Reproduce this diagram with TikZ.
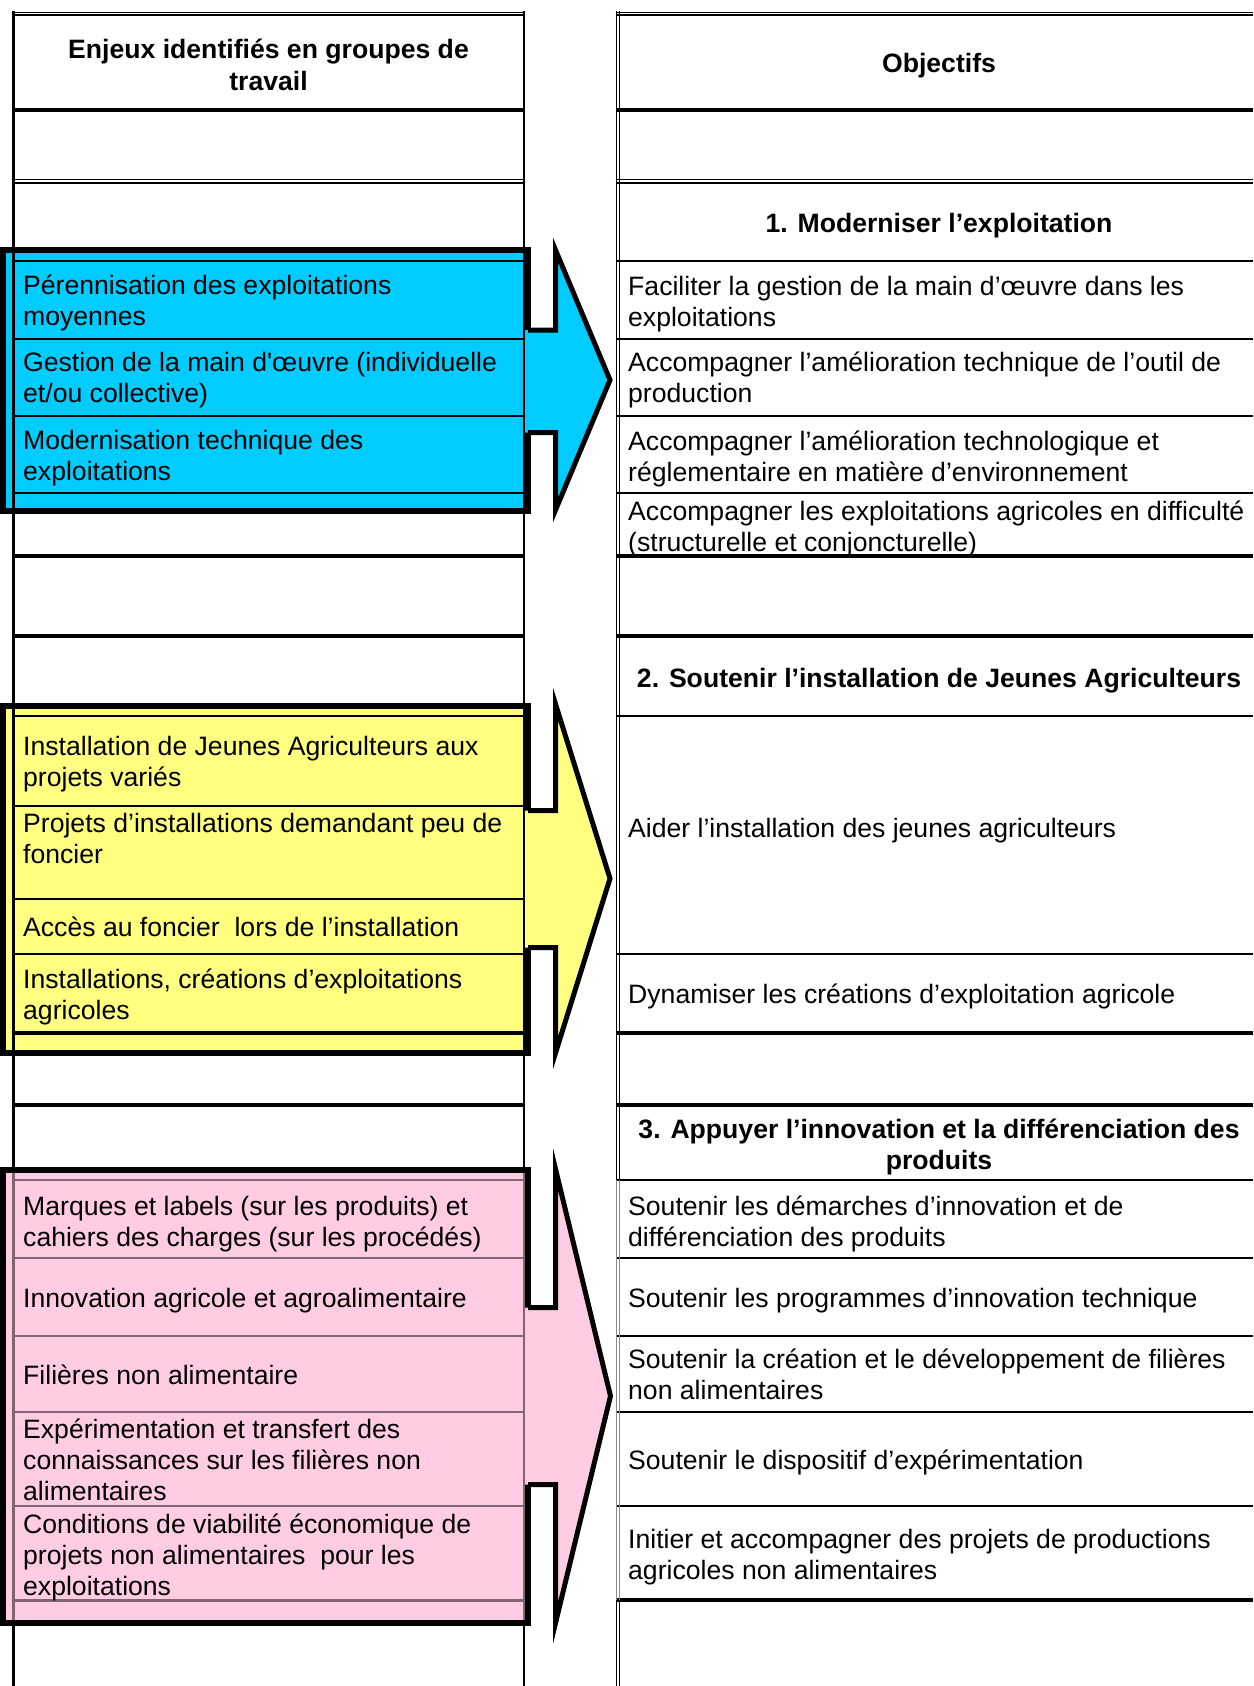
\documentclass[tikz,border=0pt]{standalone}
\usepackage{fontspec}
\setmainfont{Liberation Sans}
\definecolor{cblue}{HTML}{00CCFF}
\definecolor{cyellow}{HTML}{FFFF80}
\definecolor{cpink}{HTML}{FFCCE4}
\definecolor{mauve}{HTML}{806672}
\definecolor{lgray}{HTML}{8C8C8C}
\newcommand\bodyfont{\fontsize{26.6}{31.2}\selectfont}
\newcommand\cellL[1]{\begin{tabular}[t]{@{}l@{}}#1\end{tabular}}
\newcommand\cellC[1]{\begin{tabular}[t]{@{}c@{}}#1\end{tabular}}
% #1 shaft top, #2 shaft bottom, #3 head top, #4 head bottom, #5 tip x, #6 colour
\newcommand\bigarrow[6]{%
  \fill[#6] (521,#1) -- (555.5,#1) -- (555.5,#3) -- (#5,{(#3+#4)/2}) -- (555.5,#4) -- (555.5,#2) -- (521,#2) -- cycle;
  \draw[arrowline] (528,#1) -- (555.5,#1) -- (555.5,#3) -- (#5,{(#3+#4)/2}) -- (555.5,#4) -- (555.5,#2) -- (528,#2);
}
\begin{document}
\begin{tikzpicture}[x=1pt,y=-1pt,
  txt/.style={anchor=base west, inner sep=0pt, font=\bodyfont, yshift=-1pt},
  hdr/.style={anchor=base, inner sep=0pt, font=\bodyfont\bfseries, yshift=-1pt},
  thin/.style={line width=2pt},
  thick/.style={line width=3.6pt},
  dbl/.style={line width=1.3pt},
  boxborder/.style={line width=6pt, line join=miter},
  arrowline/.style={line width=5pt, line join=miter, miter limit=25}]
\useasboundingbox (0,0) rectangle (1253,1686);
\fill[white] (0,0) rectangle (1253,1686);

% coloured boxes
\filldraw[fill=cblue, boxborder] (3,250) rectangle (527.5,510.5);
\filldraw[fill=cyellow, boxborder] (3,705.5) rectangle (527.5,1052.5);
\filldraw[fill=cpink, boxborder] (3,1170) rectangle (527.5,1622.5);

% block arrows
\bigarrow{330}{432.5}{250}{510}{610}{cblue}
\bigarrow{810.5}{947.5}{704}{1053}{610}{cyellow}
\bigarrow{1307.5}{1484.5}{1169}{1623}{610.5}{cpink}

% top borders (double)
\foreach \yy in {12.2,15} {
  \draw[dbl] (11.5,\yy) -- (525,\yy);
  \draw[dbl] (615.5,\yy) -- (1253,\yy);
}
\foreach \yy in {179.8,183} {
  \draw[dbl] (11.5,\yy) -- (525,\yy);
  \draw[dbl] (615.5,\yy) -- (1253,\yy);
}
% left column rows
\foreach \yy in {110,556,636,1033,1105} \draw[thick] (13,\yy) -- (524,\yy);
\foreach \yy in {261,339,416,493,716,806,899,954} \draw[thin] (13,\yy) -- (524,\yy);
\foreach \yy in {1180,1258,1336,1412,1506} \draw[thin,mauve] (13,\yy) -- (524,\yy);
\draw[line width=3pt,mauve] (13,1600.5) -- (524,1600.5);
% right column rows
\foreach \yy in {110,556,636,1033,1105,1600} \draw[thick] (617,\yy) -- (1253,\yy);
\foreach \yy in {261,339,416,493,716,954,1180,1258,1336,1412,1506} \draw[thin] (617,\yy) -- (1253,\yy);

% verticals
\draw[line width=3pt] (13,11.5) -- (13,1173);
\draw[line width=3pt,mauve] (13,1173) -- (13,1619.5);
\draw[line width=3pt] (13,1619.5) -- (13,1686);
\draw[line width=2.4pt] (524,11.5) -- (524,1173);
\draw[line width=2.4pt,mauve] (524,1173) -- (524,1619.5);
\draw[line width=2.4pt] (524,1619.5) -- (524,1686);
\foreach \xx in {616.2,619.6} {
  \draw[dbl] (\xx,11.5) -- (\xx,1180);
  \draw[dbl,lgray] (\xx,1180) -- (\xx,1600);
  \draw[dbl] (\xx,1600) -- (\xx,1686);
}

% left column texts
\node[hdr] (lh) at (268.5,58) {\cellC{Enjeux identifiés en groupes de\\travail}};
\node[txt] (l1) at (23,293) {\cellL{Pérennisation des exploitations\\moyennes}};
\node[txt] (l2) at (23,370) {\cellL{Gestion de la main d\textquotesingle œuvre (individuelle\\et/ou collective)}};
\node[txt] (l3) at (23,448) {\cellL{Modernisation technique des\\exploitations}};
\node[txt] (l4) at (23,754) {\cellL{Installation de Jeunes Agriculteurs aux\\projets variés}};
\node[txt] (l5) at (23,831) {\cellL{Projets d’installations demandant peu de\\foncier}};
\node[txt] (l6) at (23,935) {Accès au foncier~ lors de l’installation};
\node[txt] (l7) at (23,987) {\cellL{Installations, créations d’exploitations\\agricoles}};
\node[txt] (l8) at (23,1214) {\cellL{Marques et labels (sur les produits) et\\cahiers des charges (sur les procédés)}};
\node[txt] (l9) at (23,1306) {Innovation agricole et agroalimentaire};
\node[txt] (l10) at (23,1383) {Filières non alimentaire};
\node[txt] (l11) at (23,1437) {\cellL{Expérimentation et transfert des\\connaissances sur les filières non\\alimentaires}};
\node[txt] (l12) at (23,1532) {\cellL{Conditions de viabilité économique de\\projets non alimentaires~ pour les\\exploitations}};

% right column texts
\node[hdr] (rh) at (939,71) {Objectifs};
\node[hdr] (r1) at (939,231) {1. Moderniser l’exploitation};
\node[txt] (r2) at (628,294) {\cellL{Faciliter la gestion de la main d’œuvre dans les\\exploitations}};
\node[txt] (r3) at (628,370) {\cellL{Accompagner l’amélioration technique de l’outil de\\production}};
\node[txt] (r4) at (628,449) {\cellL{Accompagner l’amélioration technologique et\\réglementaire en matière d’environnement}};
\node[txt] (r5) at (628,519) {\cellL{Accompagner les exploitations agricoles en difficulté\\(structurelle et conjoncturelle)}};
\node[hdr] (r6) at (939,686) {2. Soutenir l’installation de Jeunes Agriculteurs};
\node[txt] (r7) at (628,836) {Aider l’installation des jeunes agriculteurs};
\node[txt] (r8) at (628,1002) {Dynamiser les créations d’exploitation agricole};
\node[hdr] (r9) at (939,1137) {\cellC{3. Appuyer l’innovation et la différenciation des\\produits}};
\node[txt] (r10) at (628,1214) {\cellL{Soutenir les démarches d’innovation et de\\différenciation des produits}};
\node[txt] (r11) at (628,1306) {Soutenir les programmes d’innovation technique};
\node[txt] (r12) at (628,1367) {\cellL{Soutenir la création et le développement de filières\\non alimentaires}};
\node[txt] (r13) at (628,1468) {Soutenir le dispositif d’expérimentation};
\node[txt] (r14) at (628,1547) {\cellL{Initier et accompagner des projets de productions\\agricoles non alimentaires}};
\end{tikzpicture}
\end{document}
